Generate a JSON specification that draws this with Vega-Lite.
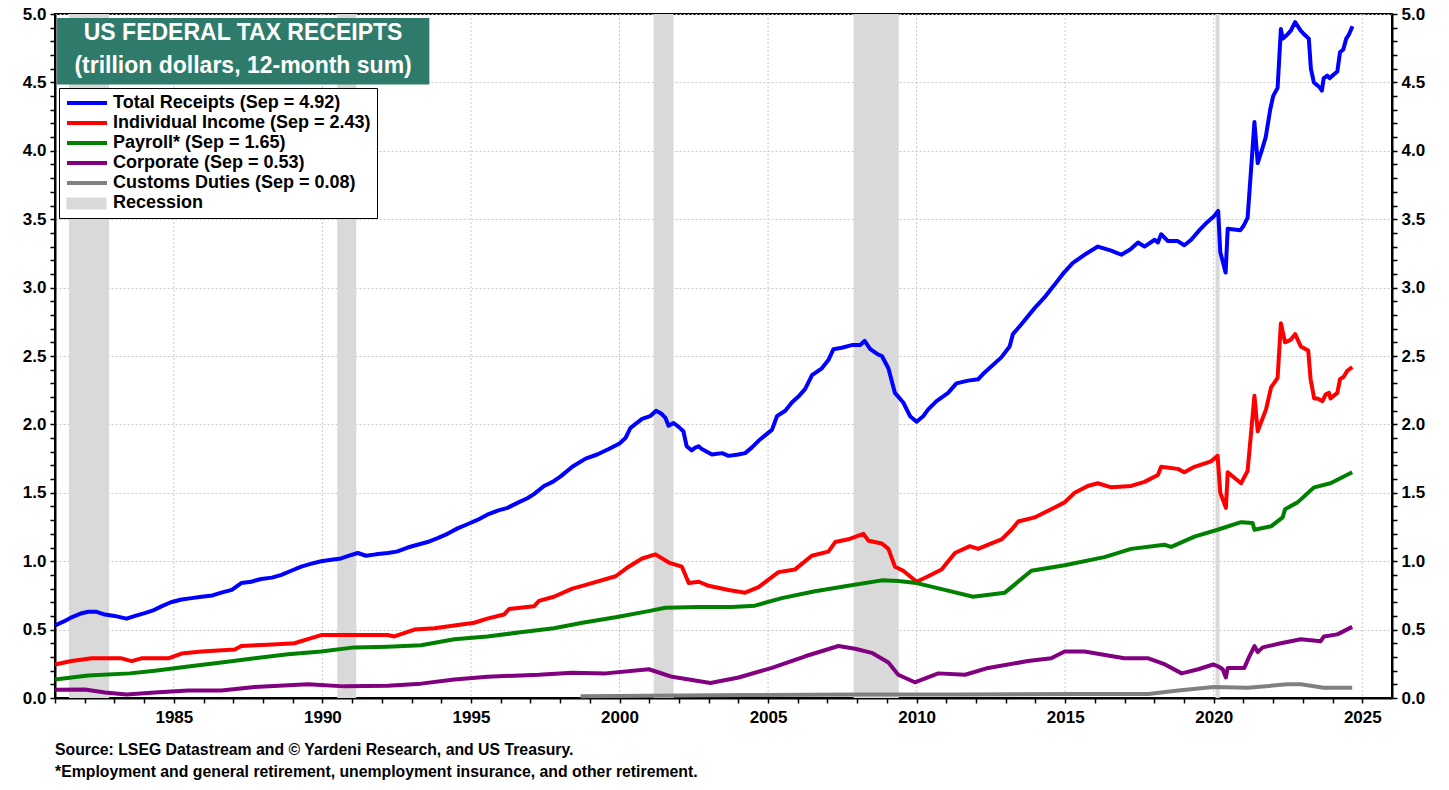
{
  "$schema": "https://vega.github.io/schema/vega-lite/v6.json",
  "width": 1337,
  "height": 684,
  "autosize": {"type": "none"},
  "padding": {"left": 55, "top": 14, "right": 57, "bottom": 92},
  "background": "white",
  "config": {
    "view": {"stroke": "black", "strokeWidth": 2},
    "font": "Arial",
    "axis": {
      "labelFont": "Arial", "labelFontSize": 17, "labelFontWeight": "bold", "labelColor": "black",
      "tickColor": "black", "tickWidth": 1.5, "tickSize": 5, "domainColor": "black", "domainWidth": 2,
      "gridColor": "#c8c8c8", "gridDash": [2, 2], "gridWidth": 1, "title": null, "labelOverlap": false
    }
  },
  "title": {
    "text": ["Source: LSEG Datastream and © Yardeni Research, and US Treasury.", "*Employment and general  retirement, unemployment insurance, and other retirement."],
    "orient": "bottom", "anchor": "start", "frame": "group", "font": "Arial", "fontSize": 15.8,
    "fontWeight": "bold", "color": "black", "lineHeight": 22, "offset": 18
  },
  "resolve": {"axis": {"y": "independent"}},
  "layer": [
    {
      "data": {"values": [{"yr": 1985}, {"yr": 1990}, {"yr": 1995}, {"yr": 2000}, {"yr": 2005}, {"yr": 2010}, {"yr": 2015}, {"yr": 2020}, {"yr": 2025}]},
      "mark": {"type": "rule", "color": "#c8c8c8", "strokeDash": [2, 2], "strokeWidth": 1},
      "encoding": {
        "x": {"field": "yr", "type": "quantitative", "scale": {"domain": [1981, 2026], "nice": false, "zero": false},
          "axis": {
            "values": [1981,1982,1983,1984,1985,1986,1987,1988,1989,1990,1991,1992,1993,1994,1995,1996,1997,1998,1999,2000,2001,2002,2003,2004,2005,2006,2007,2008,2009,2010,2011,2012,2013,2014,2015,2016,2017,2018,2019,2020,2021,2022,2023,2024,2025],
            "format": "d",
            "labelExpr": "datum.value % 5 === 0 ? datum.label : ''",
            "grid": false, "labelPadding": 6, "labelFlush": false
          }
        }
      }
    },
    {
      "data": {"values": [
        {"a": 1981.47, "b": 1982.82},
        {"a": 1990.5, "b": 1991.14},
        {"a": 2001.15, "b": 2001.82},
        {"a": 2007.88, "b": 2009.4},
        {"a": 2020.06, "b": 2020.2}
      ]},
      "mark": {"type": "rect"},
      "encoding": {
        "x": {"field": "a", "type": "quantitative",
          "axis": {
            "values": [1981,1982,1983,1984,1985,1986,1987,1988,1989,1990,1991,1992,1993,1994,1995,1996,1997,1998,1999,2000,2001,2002,2003,2004,2005,2006,2007,2008,2009,2010,2011,2012,2013,2014,2015,2016,2017,2018,2019,2020,2021,2022,2023,2024,2025],
            "format": "d",
            "labelExpr": "datum.value % 5 === 0 ? datum.label : ''",
            "grid": false, "labelPadding": 6, "labelFlush": false
          }
        },
        "x2": {"field": "b"},
        "y": {"datum": 0, "type": "quantitative", "scale": {"domain": [0, 5], "nice": false},
          "axis": {
            "orient": "right",
            "values": [0,0.1,0.2,0.3,0.4,0.5,0.6,0.7,0.8,0.9,1,1.1,1.2,1.3,1.4,1.5,1.6,1.7,1.8,1.9,2,2.1,2.2,2.3,2.4,2.5,2.6,2.7,2.8,2.9,3,3.1,3.2,3.3,3.4,3.5,3.6,3.7,3.8,3.9,4,4.1,4.2,4.3,4.4,4.5,4.6,4.7,4.8,4.9,5],
            "labelExpr": "abs(datum.value*2 - round(datum.value*2)) < 0.001 ? format(datum.value, '.1f') : ''",
            "labelPadding": 4,
            "grid": false
          }
        },
        "y2": {"datum": 5},
        "fill": {"datum": "rec", "type": "nominal",
          "scale": {"domain": ["rec"], "range": ["#d9d9d9"]},
          "legend": {
            "orient": "none", "legendX": 10, "legendY": 181, "title": null, "padding": 0,
            "symbolType": "M-1.4,-1.2H6.6V1.2H-1.4Z", "symbolSize": 100, "symbolStrokeWidth": 0,
            "symbolOpacity": 1, "labelExpr": "''", "labelFontSize": 17, "zindex": 5
          }
        }
      }
    },
    {
      "data": {"values": [{"x1": 1981.07, "x2": 1993.6, "y1": 4.485, "y2": 4.97}]},
      "mark": {"type": "rect", "color": "#2f7b6b"},
      "encoding": {
        "x": {"field": "x1", "type": "quantitative",
          "axis": {
            "values": [1981,1982,1983,1984,1985,1986,1987,1988,1989,1990,1991,1992,1993,1994,1995,1996,1997,1998,1999,2000,2001,2002,2003,2004,2005,2006,2007,2008,2009,2010,2011,2012,2013,2014,2015,2016,2017,2018,2019,2020,2021,2022,2023,2024,2025],
            "format": "d",
            "labelExpr": "datum.value % 5 === 0 ? datum.label : ''",
            "grid": false, "labelPadding": 6, "labelFlush": false
          }
        },
        "x2": {"field": "x2"},
        "y": {"field": "y1", "type": "quantitative", "axis": null},
        "y2": {"field": "y2"}
      }
    },
    {
      "data": {"values": [
        {"t": 1987.33, "v": 4.86, "txt": "US FEDERAL TAX RECEIPTS"},
        {"t": 1987.33, "v": 4.62, "txt": "(trillion dollars, 12-month sum)"}
      ]},
      "mark": {"type": "text", "font": "Arial", "fontSize": 23, "fontWeight": "bold", "color": "white", "align": "center", "baseline": "middle"},
      "encoding": {
        "x": {"field": "t", "type": "quantitative",
          "axis": {
            "values": [1981,1982,1983,1984,1985,1986,1987,1988,1989,1990,1991,1992,1993,1994,1995,1996,1997,1998,1999,2000,2001,2002,2003,2004,2005,2006,2007,2008,2009,2010,2011,2012,2013,2014,2015,2016,2017,2018,2019,2020,2021,2022,2023,2024,2025],
            "format": "d",
            "labelExpr": "datum.value % 5 === 0 ? datum.label : ''",
            "grid": false, "labelPadding": 6, "labelFlush": false
          }
        },
        "y": {"field": "v", "type": "quantitative", "axis": null},
        "text": {"field": "txt"}
      }
    },
    {
      "data": {"values": [
        {"s":"total","t":1981.0,"v":0.53},{"s":"total","t":1981.3,"v":0.56},{"s":"total","t":1981.56,"v":0.59},{"s":"total","t":1981.9,"v":0.62},{"s":"total","t":1982.12,"v":0.63},{"s":"total","t":1982.4,"v":0.63},{"s":"total","t":1982.68,"v":0.61},{"s":"total","t":1983.0,"v":0.6},{"s":"total","t":1983.41,"v":0.58},{"s":"total","t":1983.7,"v":0.6},{"s":"total","t":1984.02,"v":0.62},{"s":"total","t":1984.3,"v":0.64},{"s":"total","t":1984.58,"v":0.67},{"s":"total","t":1984.9,"v":0.7},{"s":"total","t":1985.26,"v":0.72},{"s":"total","t":1985.6,"v":0.73},{"s":"total","t":1985.93,"v":0.74},{"s":"total","t":1986.3,"v":0.75},{"s":"total","t":1986.6,"v":0.77},{"s":"total","t":1986.95,"v":0.79},{"s":"total","t":1987.27,"v":0.84},{"s":"total","t":1987.6,"v":0.85},{"s":"total","t":1987.94,"v":0.87},{"s":"total","t":1988.3,"v":0.88},{"s":"total","t":1988.62,"v":0.9},{"s":"total","t":1988.95,"v":0.93},{"s":"total","t":1989.29,"v":0.96},{"s":"total","t":1989.6,"v":0.98},{"s":"total","t":1989.96,"v":1.0},{"s":"total","t":1990.3,"v":1.01},{"s":"total","t":1990.63,"v":1.02},{"s":"total","t":1990.9,"v":1.04},{"s":"total","t":1991.19,"v":1.06},{"s":"total","t":1991.47,"v":1.04},{"s":"total","t":1991.8,"v":1.05},{"s":"total","t":1992.2,"v":1.06},{"s":"total","t":1992.5,"v":1.07},{"s":"total","t":1992.87,"v":1.1},{"s":"total","t":1993.2,"v":1.12},{"s":"total","t":1993.54,"v":1.14},{"s":"total","t":1993.9,"v":1.17},{"s":"total","t":1994.21,"v":1.2},{"s":"total","t":1994.55,"v":1.24},{"s":"total","t":1994.88,"v":1.27},{"s":"total","t":1995.2,"v":1.3},{"s":"total","t":1995.55,"v":1.34},{"s":"total","t":1995.9,"v":1.37},{"s":"total","t":1996.23,"v":1.39},{"s":"total","t":1996.6,"v":1.43},{"s":"total","t":1996.9,"v":1.46},{"s":"total","t":1997.12,"v":1.49},{"s":"total","t":1997.46,"v":1.55},{"s":"total","t":1997.75,"v":1.58},{"s":"total","t":1998.02,"v":1.62},{"s":"total","t":1998.41,"v":1.69},{"s":"total","t":1998.86,"v":1.75},{"s":"total","t":1999.25,"v":1.78},{"s":"total","t":1999.64,"v":1.82},{"s":"total","t":2000.0,"v":1.86},{"s":"total","t":2000.2,"v":1.9},{"s":"total","t":2000.37,"v":1.975},{"s":"total","t":2000.76,"v":2.04},{"s":"total","t":2001.03,"v":2.06},{"s":"total","t":2001.23,"v":2.1},{"s":"total","t":2001.4,"v":2.08},{"s":"total","t":2001.54,"v":2.05},{"s":"total","t":2001.65,"v":1.99},{"s":"total","t":2001.82,"v":2.01},{"s":"total","t":2002.0,"v":1.98},{"s":"total","t":2002.15,"v":1.95},{"s":"total","t":2002.26,"v":1.84},{"s":"total","t":2002.43,"v":1.81},{"s":"total","t":2002.55,"v":1.83},{"s":"total","t":2002.66,"v":1.84},{"s":"total","t":2002.77,"v":1.82},{"s":"total","t":2003.11,"v":1.78},{"s":"total","t":2003.45,"v":1.79},{"s":"total","t":2003.67,"v":1.77},{"s":"total","t":2004.0,"v":1.78},{"s":"total","t":2004.23,"v":1.79},{"s":"total","t":2004.45,"v":1.83},{"s":"total","t":2004.68,"v":1.88},{"s":"total","t":2004.9,"v":1.92},{"s":"total","t":2005.13,"v":1.96},{"s":"total","t":2005.3,"v":2.06},{"s":"total","t":2005.58,"v":2.1},{"s":"total","t":2005.8,"v":2.16},{"s":"total","t":2006.05,"v":2.21},{"s":"total","t":2006.25,"v":2.26},{"s":"total","t":2006.48,"v":2.36},{"s":"total","t":2006.81,"v":2.41},{"s":"total","t":2007.03,"v":2.47},{"s":"total","t":2007.2,"v":2.55},{"s":"total","t":2007.48,"v":2.56},{"s":"total","t":2007.82,"v":2.58},{"s":"total","t":2008.1,"v":2.58},{"s":"total","t":2008.25,"v":2.61},{"s":"total","t":2008.44,"v":2.55},{"s":"total","t":2008.71,"v":2.51},{"s":"total","t":2008.83,"v":2.5},{"s":"total","t":2009.05,"v":2.41},{"s":"total","t":2009.27,"v":2.23},{"s":"total","t":2009.55,"v":2.16},{"s":"total","t":2009.78,"v":2.06},{"s":"total","t":2010.0,"v":2.02},{"s":"total","t":2010.22,"v":2.06},{"s":"total","t":2010.39,"v":2.11},{"s":"total","t":2010.67,"v":2.17},{"s":"total","t":2011.06,"v":2.23},{"s":"total","t":2011.34,"v":2.3},{"s":"total","t":2011.73,"v":2.32},{"s":"total","t":2012.07,"v":2.33},{"s":"total","t":2012.29,"v":2.38},{"s":"total","t":2012.85,"v":2.49},{"s":"total","t":2013.13,"v":2.57},{"s":"total","t":2013.24,"v":2.66},{"s":"total","t":2013.52,"v":2.73},{"s":"total","t":2013.97,"v":2.85},{"s":"total","t":2014.31,"v":2.93},{"s":"total","t":2014.64,"v":3.02},{"s":"total","t":2014.92,"v":3.1},{"s":"total","t":2015.26,"v":3.18},{"s":"total","t":2015.65,"v":3.24},{"s":"total","t":2016.1,"v":3.3},{"s":"total","t":2016.55,"v":3.27},{"s":"total","t":2016.89,"v":3.24},{"s":"total","t":2017.2,"v":3.28},{"s":"total","t":2017.45,"v":3.33},{"s":"total","t":2017.67,"v":3.3},{"s":"total","t":2018.01,"v":3.35},{"s":"total","t":2018.12,"v":3.33},{"s":"total","t":2018.23,"v":3.39},{"s":"total","t":2018.46,"v":3.34},{"s":"total","t":2018.79,"v":3.34},{"s":"total","t":2019.01,"v":3.31},{"s":"total","t":2019.24,"v":3.35},{"s":"total","t":2019.52,"v":3.42},{"s":"total","t":2019.74,"v":3.47},{"s":"total","t":2020.0,"v":3.52},{"s":"total","t":2020.15,"v":3.56},{"s":"total","t":2020.22,"v":3.26},{"s":"total","t":2020.4,"v":3.11},{"s":"total","t":2020.47,"v":3.43},{"s":"total","t":2020.9,"v":3.42},{"s":"total","t":2021.0,"v":3.45},{"s":"total","t":2021.14,"v":3.51},{"s":"total","t":2021.37,"v":4.21},{"s":"total","t":2021.48,"v":3.91},{"s":"total","t":2021.64,"v":4.02},{"s":"total","t":2021.75,"v":4.1},{"s":"total","t":2021.9,"v":4.3},{"s":"total","t":2022.0,"v":4.4},{"s":"total","t":2022.15,"v":4.46},{"s":"total","t":2022.26,"v":4.89},{"s":"total","t":2022.32,"v":4.82},{"s":"total","t":2022.48,"v":4.85},{"s":"total","t":2022.6,"v":4.88},{"s":"total","t":2022.74,"v":4.94},{"s":"total","t":2022.92,"v":4.88},{"s":"total","t":2023.05,"v":4.85},{"s":"total","t":2023.2,"v":4.82},{"s":"total","t":2023.27,"v":4.6},{"s":"total","t":2023.37,"v":4.5},{"s":"total","t":2023.48,"v":4.48},{"s":"total","t":2023.58,"v":4.46},{"s":"total","t":2023.64,"v":4.44},{"s":"total","t":2023.7,"v":4.53},{"s":"total","t":2023.82,"v":4.55},{"s":"total","t":2023.9,"v":4.53},{"s":"total","t":2024.05,"v":4.56},{"s":"total","t":2024.16,"v":4.58},{"s":"total","t":2024.25,"v":4.72},{"s":"total","t":2024.36,"v":4.74},{"s":"total","t":2024.46,"v":4.82},{"s":"total","t":2024.55,"v":4.85},{"s":"total","t":2024.67,"v":4.91},
        {"s":"ind","t":1981.0,"v":0.245},{"s":"ind","t":1981.56,"v":0.27},{"s":"ind","t":1982.23,"v":0.29},{"s":"ind","t":1983.24,"v":0.29},{"s":"ind","t":1983.58,"v":0.27},{"s":"ind","t":1983.91,"v":0.29},{"s":"ind","t":1984.81,"v":0.29},{"s":"ind","t":1985.26,"v":0.325},{"s":"ind","t":1985.93,"v":0.34},{"s":"ind","t":1987.05,"v":0.355},{"s":"ind","t":1987.27,"v":0.38},{"s":"ind","t":1988.17,"v":0.39},{"s":"ind","t":1989.06,"v":0.4},{"s":"ind","t":1989.51,"v":0.43},{"s":"ind","t":1989.96,"v":0.46},{"s":"ind","t":1990.85,"v":0.46},{"s":"ind","t":1991.52,"v":0.46},{"s":"ind","t":1992.2,"v":0.46},{"s":"ind","t":1992.42,"v":0.45},{"s":"ind","t":1993.1,"v":0.5},{"s":"ind","t":1993.77,"v":0.51},{"s":"ind","t":1994.44,"v":0.53},{"s":"ind","t":1995.11,"v":0.55},{"s":"ind","t":1995.55,"v":0.58},{"s":"ind","t":1996.11,"v":0.61},{"s":"ind","t":1996.28,"v":0.65},{"s":"ind","t":1997.12,"v":0.67},{"s":"ind","t":1997.29,"v":0.71},{"s":"ind","t":1997.79,"v":0.74},{"s":"ind","t":1998.41,"v":0.8},{"s":"ind","t":1998.75,"v":0.82},{"s":"ind","t":1999.87,"v":0.89},{"s":"ind","t":2000.31,"v":0.96},{"s":"ind","t":2000.76,"v":1.02},{"s":"ind","t":2001.21,"v":1.05},{"s":"ind","t":2001.66,"v":0.99},{"s":"ind","t":2002.1,"v":0.96},{"s":"ind","t":2002.33,"v":0.84},{"s":"ind","t":2002.67,"v":0.85},{"s":"ind","t":2003.0,"v":0.82},{"s":"ind","t":2003.67,"v":0.79},{"s":"ind","t":2004.23,"v":0.77},{"s":"ind","t":2004.68,"v":0.81},{"s":"ind","t":2005.35,"v":0.92},{"s":"ind","t":2005.91,"v":0.94},{"s":"ind","t":2006.47,"v":1.04},{"s":"ind","t":2007.03,"v":1.07},{"s":"ind","t":2007.26,"v":1.14},{"s":"ind","t":2007.7,"v":1.16},{"s":"ind","t":2008.21,"v":1.2},{"s":"ind","t":2008.38,"v":1.15},{"s":"ind","t":2008.83,"v":1.13},{"s":"ind","t":2009.05,"v":1.09},{"s":"ind","t":2009.27,"v":0.96},{"s":"ind","t":2009.55,"v":0.93},{"s":"ind","t":2010.0,"v":0.85},{"s":"ind","t":2010.39,"v":0.89},{"s":"ind","t":2010.84,"v":0.94},{"s":"ind","t":2011.29,"v":1.06},{"s":"ind","t":2011.79,"v":1.11},{"s":"ind","t":2012.07,"v":1.09},{"s":"ind","t":2012.52,"v":1.13},{"s":"ind","t":2012.86,"v":1.16},{"s":"ind","t":2013.19,"v":1.23},{"s":"ind","t":2013.42,"v":1.29},{"s":"ind","t":2013.97,"v":1.32},{"s":"ind","t":2014.53,"v":1.38},{"s":"ind","t":2014.98,"v":1.43},{"s":"ind","t":2015.32,"v":1.5},{"s":"ind","t":2015.76,"v":1.55},{"s":"ind","t":2016.1,"v":1.57},{"s":"ind","t":2016.55,"v":1.54},{"s":"ind","t":2017.22,"v":1.55},{"s":"ind","t":2017.67,"v":1.58},{"s":"ind","t":2018.12,"v":1.63},{"s":"ind","t":2018.23,"v":1.69},{"s":"ind","t":2018.79,"v":1.675},{"s":"ind","t":2019.01,"v":1.65},{"s":"ind","t":2019.35,"v":1.69},{"s":"ind","t":2019.91,"v":1.73},{"s":"ind","t":2020.13,"v":1.77},{"s":"ind","t":2020.22,"v":1.5},{"s":"ind","t":2020.41,"v":1.39},{"s":"ind","t":2020.47,"v":1.65},{"s":"ind","t":2020.92,"v":1.57},{"s":"ind","t":2021.14,"v":1.66},{"s":"ind","t":2021.37,"v":2.21},{"s":"ind","t":2021.48,"v":1.95},{"s":"ind","t":2021.76,"v":2.11},{"s":"ind","t":2021.93,"v":2.27},{"s":"ind","t":2022.15,"v":2.34},{"s":"ind","t":2022.26,"v":2.74},{"s":"ind","t":2022.4,"v":2.6},{"s":"ind","t":2022.6,"v":2.62},{"s":"ind","t":2022.74,"v":2.66},{"s":"ind","t":2022.93,"v":2.57},{"s":"ind","t":2023.18,"v":2.54},{"s":"ind","t":2023.26,"v":2.33},{"s":"ind","t":2023.38,"v":2.19},{"s":"ind","t":2023.49,"v":2.19},{"s":"ind","t":2023.66,"v":2.17},{"s":"ind","t":2023.77,"v":2.22},{"s":"ind","t":2023.88,"v":2.23},{"s":"ind","t":2023.93,"v":2.19},{"s":"ind","t":2024.16,"v":2.23},{"s":"ind","t":2024.25,"v":2.33},{"s":"ind","t":2024.38,"v":2.35},{"s":"ind","t":2024.49,"v":2.39},{"s":"ind","t":2024.66,"v":2.42},
        {"s":"pay","t":1981.0,"v":0.135},{"s":"pay","t":1982.12,"v":0.165},{"s":"pay","t":1983.52,"v":0.18},{"s":"pay","t":1984.36,"v":0.2},{"s":"pay","t":1985.48,"v":0.23},{"s":"pay","t":1986.6,"v":0.26},{"s":"pay","t":1987.72,"v":0.29},{"s":"pay","t":1988.84,"v":0.32},{"s":"pay","t":1989.96,"v":0.34},{"s":"pay","t":1991.07,"v":0.37},{"s":"pay","t":1992.2,"v":0.375},{"s":"pay","t":1993.32,"v":0.385},{"s":"pay","t":1994.44,"v":0.43},{"s":"pay","t":1995.55,"v":0.45},{"s":"pay","t":1996.67,"v":0.48},{"s":"pay","t":1997.79,"v":0.51},{"s":"pay","t":1998.75,"v":0.55},{"s":"pay","t":1999.87,"v":0.59},{"s":"pay","t":2000.98,"v":0.635},{"s":"pay","t":2001.54,"v":0.66},{"s":"pay","t":2002.66,"v":0.665},{"s":"pay","t":2003.78,"v":0.665},{"s":"pay","t":2004.56,"v":0.675},{"s":"pay","t":2005.46,"v":0.73},{"s":"pay","t":2006.58,"v":0.78},{"s":"pay","t":2007.7,"v":0.82},{"s":"pay","t":2008.83,"v":0.86},{"s":"pay","t":2009.38,"v":0.855},{"s":"pay","t":2010.0,"v":0.84},{"s":"pay","t":2010.95,"v":0.79},{"s":"pay","t":2011.9,"v":0.74},{"s":"pay","t":2012.97,"v":0.77},{"s":"pay","t":2013.86,"v":0.93},{"s":"pay","t":2014.98,"v":0.97},{"s":"pay","t":2016.32,"v":1.03},{"s":"pay","t":2017.22,"v":1.09},{"s":"pay","t":2018.34,"v":1.12},{"s":"pay","t":2018.57,"v":1.105},{"s":"pay","t":2019.35,"v":1.18},{"s":"pay","t":2020.13,"v":1.23},{"s":"pay","t":2020.92,"v":1.285},{"s":"pay","t":2021.31,"v":1.28},{"s":"pay","t":2021.37,"v":1.23},{"s":"pay","t":2021.93,"v":1.255},{"s":"pay","t":2022.32,"v":1.32},{"s":"pay","t":2022.4,"v":1.38},{"s":"pay","t":2022.82,"v":1.43},{"s":"pay","t":2023.38,"v":1.54},{"s":"pay","t":2023.93,"v":1.57},{"s":"pay","t":2024.66,"v":1.65},
        {"s":"corp","t":1981.0,"v":0.06},{"s":"corp","t":1982.01,"v":0.062},{"s":"corp","t":1982.68,"v":0.04},{"s":"corp","t":1983.41,"v":0.025},{"s":"corp","t":1984.36,"v":0.04},{"s":"corp","t":1985.48,"v":0.055},{"s":"corp","t":1986.6,"v":0.055},{"s":"corp","t":1987.72,"v":0.08},{"s":"corp","t":1989.51,"v":0.1},{"s":"corp","t":1990.74,"v":0.085},{"s":"corp","t":1992.2,"v":0.09},{"s":"corp","t":1993.32,"v":0.105},{"s":"corp","t":1994.44,"v":0.135},{"s":"corp","t":1995.55,"v":0.155},{"s":"corp","t":1996.67,"v":0.165},{"s":"corp","t":1997.29,"v":0.17},{"s":"corp","t":1998.41,"v":0.185},{"s":"corp","t":1999.53,"v":0.18},{"s":"corp","t":2000.99,"v":0.21},{"s":"corp","t":2001.55,"v":0.17},{"s":"corp","t":2001.77,"v":0.155},{"s":"corp","t":2003.06,"v":0.11},{"s":"corp","t":2004.01,"v":0.15},{"s":"corp","t":2005.13,"v":0.22},{"s":"corp","t":2006.25,"v":0.305},{"s":"corp","t":2007.37,"v":0.38},{"s":"corp","t":2007.93,"v":0.36},{"s":"corp","t":2008.49,"v":0.33},{"s":"corp","t":2009.05,"v":0.26},{"s":"corp","t":2009.38,"v":0.17},{"s":"corp","t":2009.94,"v":0.115},{"s":"corp","t":2010.73,"v":0.18},{"s":"corp","t":2011.63,"v":0.17},{"s":"corp","t":2012.41,"v":0.22},{"s":"corp","t":2013.75,"v":0.27},{"s":"corp","t":2014.53,"v":0.29},{"s":"corp","t":2014.98,"v":0.34},{"s":"corp","t":2015.65,"v":0.34},{"s":"corp","t":2016.99,"v":0.29},{"s":"corp","t":2017.8,"v":0.29},{"s":"corp","t":2018.36,"v":0.245},{"s":"corp","t":2018.92,"v":0.18},{"s":"corp","t":2019.48,"v":0.21},{"s":"corp","t":2019.98,"v":0.245},{"s":"corp","t":2020.16,"v":0.23},{"s":"corp","t":2020.3,"v":0.21},{"s":"corp","t":2020.41,"v":0.15},{"s":"corp","t":2020.47,"v":0.22},{"s":"corp","t":2021.03,"v":0.22},{"s":"corp","t":2021.2,"v":0.305},{"s":"corp","t":2021.37,"v":0.38},{"s":"corp","t":2021.48,"v":0.335},{"s":"corp","t":2021.65,"v":0.37},{"s":"corp","t":2022.26,"v":0.4},{"s":"corp","t":2022.93,"v":0.43},{"s":"corp","t":2023.6,"v":0.415},{"s":"corp","t":2023.71,"v":0.45},{"s":"corp","t":2024.16,"v":0.465},{"s":"corp","t":2024.66,"v":0.52},
        {"s":"cust","t":1998.69,"v":0.013},{"s":"cust","t":2004.29,"v":0.022},{"s":"cust","t":2008.0,"v":0.025},{"s":"cust","t":2011.4,"v":0.025},{"s":"cust","t":2015.3,"v":0.03},{"s":"cust","t":2017.8,"v":0.03},{"s":"cust","t":2018.8,"v":0.055},{"s":"cust","t":2020.0,"v":0.08},{"s":"cust","t":2021.14,"v":0.075},{"s":"cust","t":2022.48,"v":0.1},{"s":"cust","t":2022.93,"v":0.1},{"s":"cust","t":2023.7,"v":0.075},{"s":"cust","t":2024.66,"v":0.075}
      ]},
      "mark": {"type": "line", "strokeWidth": 4, "strokeJoin": "round"},
      "encoding": {
        "x": {"field": "t", "type": "quantitative",
          "axis": {
            "values": [1981,1982,1983,1984,1985,1986,1987,1988,1989,1990,1991,1992,1993,1994,1995,1996,1997,1998,1999,2000,2001,2002,2003,2004,2005,2006,2007,2008,2009,2010,2011,2012,2013,2014,2015,2016,2017,2018,2019,2020,2021,2022,2023,2024,2025],
            "format": "d",
            "labelExpr": "datum.value % 5 === 0 ? datum.label : ''",
            "grid": false, "labelPadding": 6, "labelFlush": false
          }
        },
        "y": {"field": "v", "type": "quantitative",
          "axis": {
            "orient": "left",
            "values": [0,0.1,0.2,0.3,0.4,0.5,0.6,0.7,0.8,0.9,1,1.1,1.2,1.3,1.4,1.5,1.6,1.7,1.8,1.9,2,2.1,2.2,2.3,2.4,2.5,2.6,2.7,2.8,2.9,3,3.1,3.2,3.3,3.4,3.5,3.6,3.7,3.8,3.9,4,4.1,4.2,4.3,4.4,4.5,4.6,4.7,4.8,4.9,5],
            "labelExpr": "abs(datum.value*2 - round(datum.value*2)) < 0.001 ? format(datum.value, '.1f') : ''",
            "gridOpacity": {"condition": {"test": "abs(datum.value*2 - round(datum.value*2)) < 0.001", "value": 1}, "value": 0},
            "grid": true,
            "labelPadding": 4
          }
        },
        "color": {"field": "s", "type": "nominal",
          "scale": {"domain": ["total", "ind", "pay", "corp", "cust", "rec"], "range": ["#0000ff", "#ff0000", "#008000", "#800080", "#808080", "#ffffff"]},
          "legend": {
            "orient": "none", "legendX": 4, "legendY": 74, "title": null, "direction": "vertical",
            "symbolType": "M-1.4,0H6.6", "symbolSize": 100, "symbolStrokeWidth": 4,
            "labelFont": "Arial", "labelFontSize": 18, "labelFontWeight": "bold", "labelColor": "black",
            "labelOffset": 30, "rowPadding": 2, "padding": 6, "labelLimit": 500,
            "strokeColor": "black", "fillColor": "white", "zindex": 1,
            "labelExpr": "datum.value === 'total' ? 'Total Receipts (Sep = 4.92)' : datum.value === 'ind' ? 'Individual Income (Sep = 2.43)' : datum.value === 'pay' ? 'Payroll* (Sep = 1.65)' : datum.value === 'corp' ? 'Corporate (Sep = 0.53)' : datum.value === 'cust' ? 'Customs Duties (Sep = 0.08)' : 'Recession'"
          }
        }
      }
    }
  ]
}
